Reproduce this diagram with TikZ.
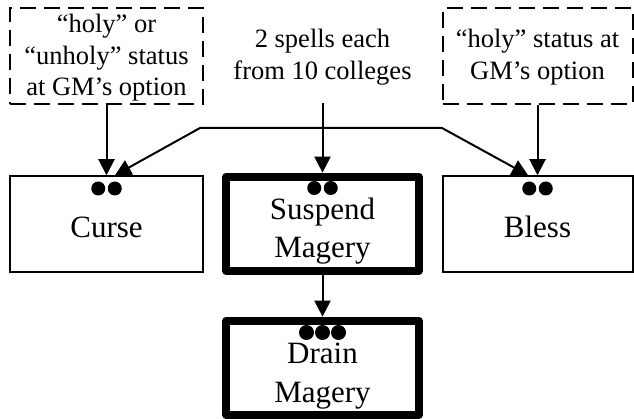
\documentclass[tikz,border=0pt]{standalone}
\usepackage{fontspec}
\setmainfont{Liberation Serif}
\usetikzlibrary{arrows.meta}
\begin{document}
\begin{tikzpicture}[x=1pt,y=-1pt,
  thinbox/.style={draw, line width=2pt, minimum height=95.5pt, inner sep=0pt},
  thickbox/.style={draw, line width=8pt, line join=round, minimum width=192.4pt, minimum height=94.3pt, inner sep=0pt},
  dashbox/.style={draw, line width=2pt, dash pattern=on 16pt off 8pt, minimum height=96pt, inner sep=0pt},
  small/.style={font=\fontsize{26.5}{31.8}\selectfont, inner sep=0pt, anchor=base},
  big/.style={font=\fontsize{31}{37}\selectfont, inner sep=0pt, anchor=base},
  tip/.tip={Triangle[width=16pt,length=16pt]},
  conn/.style={line width=2pt, -tip},
  dot/.style={fill=black}]
\useasboundingbox (0,0) rectangle (634,419);

% upper boxes
\node[dashbox, minimum width=193pt] (dl) at (106.5,56) {};
\node[dashbox, minimum width=190pt] (dr) at (537.5,56) {};
\node[inner sep=0pt, minimum width=180pt, minimum height=95pt] (spells) at (322.5,55.5) {};

\node[small] (dl1) at (106.5,33) {“holy” or};
\node[small] (dl2) at (106.5,64.5) {“unholy” status};
\node[small] (dl3) at (106.5,96) {at GM’s option};
\node[small] (sp1) at (322.5,48) {2 spells each};
\node[small] (sp2) at (322.5,80) {from 10 colleges};
\node[small] (dr1) at (537.5,48) {“holy” status at};
\node[small] (dr2) at (537.5,79.5) {GM’s option};

% main boxes
\node[thinbox, minimum width=193pt] (curse) at (106.5,224) {};
\node[thickbox] (suspend) at (322.5,223.8) {};
\node[thinbox, minimum width=190pt] (bless) at (537.5,224) {};
\node[thickbox] (drain) at (322.5,367.8) {};

\node[big] (cursetxt) at (106.5,238) {Curse};
\node[big] (blesstxt) at (537.5,238) {Bless};
\node[big] (sus1) at (322.5,220) {Suspend};
\node[big] (sus2) at (322.5,258) {Magery};
\node[big] (dra1) at (322.5,363.5) {Drain};
\node[big] (dra2) at (322.5,402) {Magery};

% dots
\fill[dot] (98.25,188.5) circle[radius=7pt];
\fill[dot] (114.75,188.5) circle[radius=7pt];
\fill[dot] (314.25,188) circle[radius=7pt];
\fill[dot] (330.75,188) circle[radius=7pt];
\fill[dot] (529.25,188.5) circle[radius=7pt];
\fill[dot] (545.75,188.5) circle[radius=7pt];
\fill[dot] (306.5,332.5) circle[radius=7.5pt];
\fill[dot] (322.5,332.5) circle[radius=7.5pt];
\fill[dot] (338.5,332.5) circle[radius=7.5pt];

% connectors
\coordinate (pl) at (200,128);
\coordinate (pr) at (442,128);
\draw[conn] (dl.south) -- (curse.north);
\draw[conn] (spells.south) -- (suspend.north);
\draw[conn] (dr.south) -- (bless.north);
\draw[conn] (suspend.south) -- (drain.north);
\draw[line width=2pt, tip-tip] ([xshift=8.5pt]curse.north) -- (pl) -- (pr) -- ([xshift=-9.5pt]bless.north);
\end{tikzpicture}
\end{document}
